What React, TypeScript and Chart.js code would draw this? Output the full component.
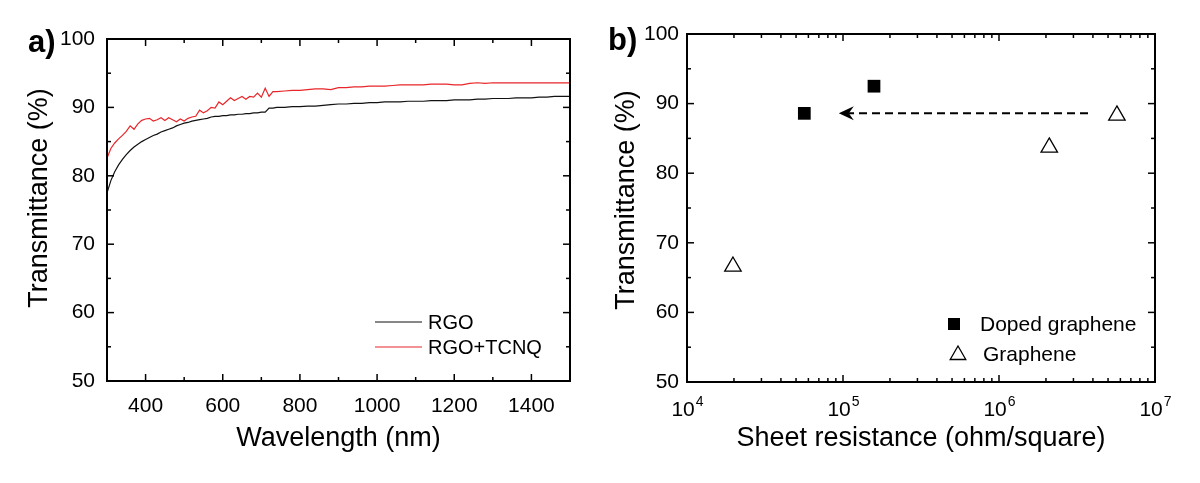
import React, { useEffect, useRef } from 'react';
import { Chart, registerables } from 'chart.js';

Chart.register(...registerables);

const FONT = "'Liberation Sans', Arial, Helvetica, sans-serif";

// ---------- panel a) data ----------
const wavelengths = [
  300, 310, 320, 330, 340, 350, 360, 370, 380, 390, 400, 410, 420, 430, 440, 450,
  460, 470, 480, 490, 500, 510, 520, 530, 540, 550, 560, 570, 580, 590, 600, 610,
  620, 630, 640, 650, 660, 670, 680, 690, 700, 710, 720, 730, 740, 760, 780, 800,
  820, 840, 860, 880, 900, 920, 940, 960, 980, 1000, 1020, 1040, 1060, 1080, 1100,
  1120, 1140, 1160, 1180, 1200, 1220, 1240, 1260, 1280, 1300, 1320, 1340, 1360,
  1380, 1400, 1420, 1440, 1460, 1480, 1500,
];
const rgoValues = [
  77.5, 79.3, 80.6, 81.6, 82.4, 83.1, 83.7, 84.2, 84.6, 85.0, 85.3, 85.6, 85.9, 86.1, 86.4, 86.6,
  86.8, 87.0, 87.3, 87.5, 87.7, 87.8, 88.0, 88.1, 88.2, 88.3, 88.4, 88.6, 88.7, 88.7, 88.8, 88.8,
  88.9, 88.9, 89.0, 89.0, 89.1, 89.1, 89.2, 89.2, 89.3, 89.3, 89.9, 89.9, 90.0, 90.0, 90.1, 90.1,
  90.2, 90.2, 90.3, 90.4, 90.5, 90.5, 90.6, 90.6, 90.7, 90.7, 90.8, 90.8, 90.8, 90.9, 90.9,
  90.9, 91.0, 91.0, 91.0, 91.1, 91.1, 91.1, 91.2, 91.2, 91.3, 91.3, 91.3, 91.4,
  91.4, 91.4, 91.5, 91.5, 91.6, 91.6, 91.6,
];
const tcnqValues = [
  82.6, 84.0, 84.8, 85.4, 85.9, 86.5, 87.3, 86.8, 87.6, 88.1, 88.3, 88.4, 88.0, 88.2, 88.5, 88.1,
  88.5, 88.2, 87.9, 88.3, 88.0, 88.4, 88.6, 88.7, 89.6, 89.2, 89.5, 90.0, 89.9, 90.8, 90.4, 90.9,
  91.4, 91.0, 91.3, 91.6, 91.2, 91.6, 91.5, 92.1, 91.5, 92.8, 91.6, 92.3, 92.3, 92.4, 92.5, 92.5,
  92.6, 92.7, 92.7, 92.6, 92.9, 92.9, 93.0, 93.0, 93.1, 93.1, 93.1, 93.2, 93.3, 93.3, 93.3,
  93.3, 93.4, 93.4, 93.4, 93.3, 93.3, 93.5, 93.6, 93.5, 93.6, 93.6, 93.6, 93.6,
  93.6, 93.6, 93.6, 93.6, 93.6, 93.6, 93.6,
];
const xTicksA = [400, 600, 800, 1000, 1200, 1400];
const xMinorA = [500, 700, 900, 1100, 1300];
const yTicks = [50, 60, 70, 80, 90, 100];
const yMinor = [55, 65, 75, 85, 95];

// ---------- panel b) data ----------
const dopedResistance = [5.65e4, 1.58e5];
const dopedTransmittance = [88.6, 92.5];
const grapheneResistance = [1.97e4, 2.1e6, 5.7e6];
const grapheneTransmittance = [66.6, 83.7, 88.3];
const xTicksB = [1e4, 1e5, 1e6, 1e7];
const xTickBase = '10';
const xTickExponents = ['4', '5', '6', '7'];
const arrowStart = 3.72e6;
const arrowEnd = 9.4e4;
const arrowLevel = 88.6;

function seg(ctx: CanvasRenderingContext2D, x1: number, y1: number, x2: number, y2: number) {
  ctx.beginPath();
  ctx.moveTo(x1, y1);
  ctx.lineTo(x2, y2);
  ctx.stroke();
}

function framePlugin(id: string, xMajor: number[], xMinor: number[], yMajor: number[], yMinorT: number[]) {
  return {
    id,
    afterDatasetsDraw(chart: any) {
      const { ctx, chartArea: a, scales } = chart;
      ctx.save();
      ctx.strokeStyle = '#000';
      ctx.lineWidth = 1.5;
      const xt = (v: number, len: number) => {
        const p = scales.x.getPixelForValue(v);
        seg(ctx, p, a.bottom, p, a.bottom - len);
        seg(ctx, p, a.top, p, a.top + len);
      };
      const yt = (v: number, len: number) => {
        const p = scales.y.getPixelForValue(v);
        seg(ctx, a.left, p, a.left + len, p);
        seg(ctx, a.right, p, a.right - len, p);
      };
      xMajor.forEach((v) => xt(v, 7));
      xMinor.forEach((v) => xt(v, 4));
      yMajor.forEach((v) => yt(v, 7));
      yMinorT.forEach((v) => yt(v, 4));
      ctx.lineWidth = 2;
      ctx.strokeRect(a.left, a.top, a.right - a.left, a.bottom - a.top);
      ctx.restore();
    },
  };
}

function textPlugin(id: string, label: string, lx: number, ly: number, yTitle: string, tx: number, ty: number) {
  return {
    id,
    afterDraw(chart: any) {
      const ctx = chart.ctx;
      ctx.save();
      ctx.fillStyle = '#000';
      ctx.font = `bold 31px ${FONT}`;
      ctx.textAlign = 'left';
      ctx.textBaseline = 'alphabetic';
      ctx.fillText(label, lx, ly);
      ctx.translate(tx, ty);
      ctx.rotate(-Math.PI / 2);
      ctx.font = `27px ${FONT}`;
      ctx.textAlign = 'center';
      ctx.textBaseline = 'middle';
      ctx.fillText(yTitle, 0, 0);
      ctx.restore();
    },
  };
}

const baseTicks = { font: { size: 21, family: FONT }, color: '#000', autoSkip: false, maxRotation: 0 };
const titleFont = { size: 27, family: FONT };

export default function App() {
  const refA = useRef<HTMLCanvasElement>(null);
  const refB = useRef<HTMLCanvasElement>(null);

  useEffect(() => {
    const legendA = {
      id: 'legendA',
      afterDraw(chart: any) {
        const ctx = chart.ctx;
        ctx.save();
        ctx.font = `20px ${FONT}`;
        ctx.fillStyle = '#000';
        ctx.textBaseline = 'alphabetic';
        ctx.lineWidth = 1.2;
        ctx.strokeStyle = '#111';
        seg(ctx, 375, 322, 422, 322);
        ctx.fillText('RGO', 428, 329);
        ctx.strokeStyle = '#e8262a';
        seg(ctx, 375, 347, 422, 347);
        ctx.fillText('RGO+TCNQ', 428, 354);
        ctx.restore();
      },
    };

    const chartA = new Chart(refA.current as HTMLCanvasElement, {
      type: 'scatter',
      data: {
        datasets: [
          {
            label: 'RGO',
            data: wavelengths.map((w, i) => ({ x: w, y: rgoValues[i] })),
            showLine: true,
            borderColor: '#111',
            borderWidth: 1.2,
            pointRadius: 0,
          },
          {
            label: 'RGO+TCNQ',
            data: wavelengths.map((w, i) => ({ x: w, y: tcnqValues[i] })),
            showLine: true,
            borderColor: '#e8262a',
            borderWidth: 1.2,
            pointRadius: 0,
          },
        ],
      },
      options: {
        responsive: false,
        animation: false,
        devicePixelRatio: 1,
        layout: { padding: { left: 0, top: 39, right: 30, bottom: 0 } },
        plugins: { legend: { display: false }, tooltip: { enabled: false } },
        scales: {
          x: {
            type: 'linear',
            min: 300,
            max: 1500,
            afterBuildTicks: (s: any) => {
              s.ticks = xTicksA.map((v) => ({ value: v }));
            },
            afterFit: (s: any) => {
              s.height = 102;
            },
            grid: { display: false, drawTicks: false },
            border: { display: false },
            ticks: { ...baseTicks, padding: 13, callback: (v: any) => String(v) },
            title: { display: true, text: 'Wavelength (nm)', font: titleFont, color: '#000', padding: { top: 0, bottom: 28 } },
          },
          y: {
            type: 'linear',
            min: 50,
            max: 100,
            afterBuildTicks: (s: any) => {
              s.ticks = yTicks.map((v) => ({ value: v }));
            },
            afterFit: (s: any) => {
              s.width = 107;
            },
            grid: { display: false, drawTicks: false },
            border: { display: false },
            ticks: { ...baseTicks, padding: 12, callback: (v: any) => String(v) },
          },
        },
      } as any,
      plugins: [
        framePlugin('frameA', xTicksA, xMinorA, yTicks, yMinor),
        legendA,
        textPlugin('textA', 'a)', 28, 52, 'Transmittance (%)', 40, 198),
      ],
    });

    const xMinorB: number[] = [];
    [1e4, 1e5, 1e6].forEach((d) => {
      for (let m = 2; m <= 9; m++) xMinorB.push(d * m);
    });

    const arrowPlugin = {
      id: 'arrowB',
      afterDatasetsDraw(chart: any) {
        const { ctx, scales } = chart;
        const x1 = scales.x.getPixelForValue(arrowStart);
        const x2 = scales.x.getPixelForValue(arrowEnd);
        const y = scales.y.getPixelForValue(arrowLevel);
        ctx.save();
        ctx.strokeStyle = '#000';
        ctx.fillStyle = '#000';
        ctx.lineWidth = 2;
        ctx.setLineDash([8, 5]);
        seg(ctx, x1, y, x2 + 10, y);
        ctx.setLineDash([]);
        ctx.beginPath();
        ctx.moveTo(x2, y);
        ctx.lineTo(x2 + 15, y - 7);
        ctx.lineTo(x2 + 10, y);
        ctx.lineTo(x2 + 15, y + 7);
        ctx.closePath();
        ctx.fill();
        ctx.restore();
      },
    };

    const logLabels = {
      id: 'logLabels',
      afterDraw(chart: any) {
        const { ctx, chartArea: a, scales } = chart;
        ctx.save();
        ctx.fillStyle = '#000';
        ctx.textBaseline = 'alphabetic';
        ctx.textAlign = 'left';
        xTicksB.forEach((v, i) => {
          const p = scales.x.getPixelForValue(v);
          ctx.font = `21px ${FONT}`;
          const wb = ctx.measureText(xTickBase).width;
          ctx.font = `14px ${FONT}`;
          const we = ctx.measureText(xTickExponents[i]).width;
          const start = p - (wb + we) / 2;
          ctx.font = `21px ${FONT}`;
          ctx.fillText(xTickBase, start, a.bottom + 34);
          ctx.font = `14px ${FONT}`;
          ctx.fillText(xTickExponents[i], start + wb + 1, a.bottom + 24);
        });
        ctx.restore();
      },
    };

    const legendB = {
      id: 'legendB',
      afterDraw(chart: any) {
        const ctx = chart.ctx;
        ctx.save();
        ctx.fillStyle = '#000';
        ctx.strokeStyle = '#000';
        ctx.font = `21px ${FONT}`;
        ctx.textBaseline = 'alphabetic';
        ctx.fillRect(348, 318, 12, 12);
        ctx.fillText('Doped graphene', 380, 331);
        const cx = 358;
        const cy = 355;
        const r = 9;
        ctx.lineWidth = 1.3;
        ctx.beginPath();
        ctx.moveTo(cx, cy - r);
        ctx.lineTo(cx + r * 0.866, cy + r * 0.5);
        ctx.lineTo(cx - r * 0.866, cy + r * 0.5);
        ctx.closePath();
        ctx.stroke();
        ctx.fillText('Graphene', 383, 361);
        ctx.restore();
      },
    };

    const chartB = new Chart(refB.current as HTMLCanvasElement, {
      type: 'scatter',
      data: {
        datasets: [
          {
            label: 'Doped graphene',
            data: dopedResistance.map((r, i) => ({ x: r, y: dopedTransmittance[i] })),
            pointStyle: 'rect',
            pointRadius: 9,
            backgroundColor: '#000',
            borderColor: '#000',
            borderWidth: 0,
          },
          {
            label: 'Graphene',
            data: grapheneResistance.map((r, i) => ({ x: r, y: grapheneTransmittance[i] })),
            pointStyle: 'triangle',
            pointRadius: 9.5,
            backgroundColor: 'rgba(255,255,255,0)',
            borderColor: '#000',
            borderWidth: 1.3,
          },
        ],
      },
      options: {
        responsive: false,
        animation: false,
        devicePixelRatio: 1,
        layout: { padding: { left: 0, top: 34, right: 45, bottom: 0 } },
        plugins: { legend: { display: false }, tooltip: { enabled: false } },
        scales: {
          x: {
            type: 'logarithmic',
            min: 1e4,
            max: 1e7,
            afterBuildTicks: (s: any) => {
              s.ticks = xTicksB.map((v) => ({ value: v }));
            },
            afterFit: (s: any) => {
              s.height = 101;
            },
            grid: { display: false, drawTicks: false },
            border: { display: false },
            ticks: { ...baseTicks, padding: 10, callback: () => '' },
            title: { display: true, text: 'Sheet resistance (ohm/square)', font: titleFont, color: '#000', padding: { top: 0, bottom: 28 } },
          },
          y: {
            type: 'linear',
            min: 50,
            max: 100,
            afterBuildTicks: (s: any) => {
              s.ticks = yTicks.map((v) => ({ value: v }));
            },
            afterFit: (s: any) => {
              s.width = 87;
            },
            grid: { display: false, drawTicks: false },
            border: { display: false },
            ticks: { ...baseTicks, padding: 8, callback: (v: any) => String(v) },
          },
        },
      } as any,
      plugins: [
        framePlugin('frameB', xTicksB, xMinorB, yTicks, yMinor),
        arrowPlugin,
        logLabels,
        legendB,
        textPlugin('textB', 'b)', 8, 50, 'Transmittance (%)', 27, 200),
      ],
    });

    return () => {
      chartA.destroy();
      chartB.destroy();
    };
  }, []);

  return (
    <div style={{ position: 'fixed', left: 0, top: 0, width: 1200, height: 483, background: '#fff' }}>
      <canvas ref={refA} width={600} height={483} style={{ position: 'absolute', left: 0, top: 0, width: 600, height: 483 }} />
      <canvas ref={refB} width={600} height={483} style={{ position: 'absolute', left: 600, top: 0, width: 600, height: 483 }} />
    </div>
  );
}
